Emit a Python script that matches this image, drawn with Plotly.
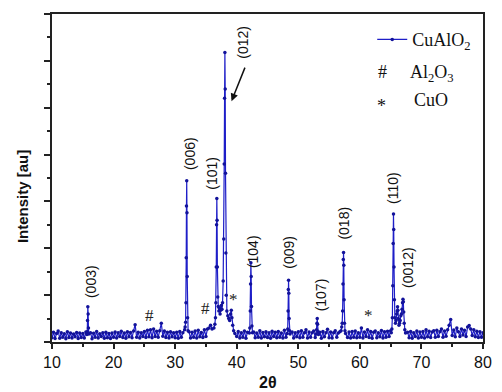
import numpy as np
import plotly.graph_objects as go

# ---- XRD scan of CuAlO2 powder ----
# background counts on a 0.25 deg grid, one list per 10 deg
BG_START, BG_STEP = 10.0, 0.25
bg_10s = [45, 105, 38, 92, 118, 40, 98, 52, 88, 35, 110, 48, 95, 42, 86, 55, 102, 38, 96, 47,
          90, 44, 108, 100, 80, 100, 36, 94, 50, 112, 42, 87, 58, 99, 40, 104, 46, 91, 37, 97]
bg_20s = [52, 108, 44, 100, 60, 115, 48, 96, 40, 110, 55, 102, 46, 118, 185, 50, 105, 42, 98, 60,
          112, 48, 125, 56, 130, 45, 140, 58, 115, 50, 120, 200, 62, 118, 48, 104, 42, 110, 55, 98]
bg_30s = [46, 104, 40, 112, 52, 98, 110, 150, 120, 110, 42, 105, 50, 118, 44, 125, 56, 102, 48, 130,
          60, 140, 150, 180, 140, 160, 200, 300, 380, 330, 390, 500, 2000, 900, 280, 240, 300, 220, 120, 90]
bg_40s = [58, 112, 44, 100, 50, 118, 40, 105, 95, 600, 100, 108, 46, 96, 52, 120, 42, 102, 55, 110,
          48, 98, 40, 115, 60, 104, 45, 112, 50, 96, 44, 125, 52, 300, 250, 80, 108, 42, 100, 55]
bg_50s = [110, 46, 120, 50, 98, 130, 44, 106, 52, 100, 118, 48, 180, 120, 104, 40, 112, 55, 98, 135,
          46, 108, 42, 100, 120, 50, 96, 110, 140, 700, 200, 88, 48, 106, 42, 112, 50, 118, 46, 100]
bg_60s = [52, 150, 44, 108, 60, 130, 48, 112, 40, 104, 118, 46, 100, 55, 122, 44, 110, 50, 115, 60,
          120, 300, 1300, 250, 220, 340, 220, 280, 430, 120, 90, 104, 46, 112, 40, 100, 58, 118, 44, 106]
bg_70s = [50, 112, 44, 130, 56, 115, 48, 108, 120, 52, 125, 58, 110, 140, 50, 118, 62, 130, 180, 240,
          70, 128, 56, 150, 110, 60, 140, 75, 125, 58, 160, 175, 140, 70, 130, 55, 115, 48, 110, 52, 100]

# diffraction peak profiles (2theta in deg, counts)
peak_2theta = [15.66, 15.72, 15.77, 15.82, 15.87, 15.92, 15.98,
               31.55, 31.62, 31.70, 31.76, 31.80, 31.84, 31.88, 31.92, 31.96, 32.02, 32.10,
               36.30, 36.45, 36.55, 36.62, 36.68, 36.73, 36.77, 36.81, 36.86, 36.92, 37.00,
               37.10, 37.20, 37.30, 37.40, 37.50, 37.60, 37.70, 37.80, 37.90, 37.97, 38.03,
               38.08, 38.13, 38.18, 38.24, 38.30, 38.40, 38.55, 38.70, 38.85, 39.00, 39.12,
               39.22, 39.35, 39.50, 39.70,
               42.05, 42.13, 42.20, 42.25, 42.30, 42.35, 42.40, 42.47, 42.55,
               48.20, 48.28, 48.34, 48.38, 48.42, 48.46, 48.51, 48.58, 48.66,
               52.90, 52.98, 53.04, 53.08, 53.13, 53.20, 53.28,
               56.95, 57.05, 57.13, 57.20, 57.26, 57.31, 57.35, 57.39, 57.44, 57.50, 57.58, 57.68,
               65.10, 65.20, 65.28, 65.35, 65.41, 65.46, 65.50, 65.55, 65.61, 65.68, 65.78,
               65.88, 65.98, 66.06, 66.12, 66.18, 66.25, 66.35, 66.45, 66.55, 66.65, 66.75,
               66.85, 66.93, 67.00, 67.06, 67.12, 67.20, 67.30, 67.42]
peak_counts = [80, 110, 230, 375, 300, 150, 85,
               130, 160, 210, 420, 900, 1450, 1720, 1380, 700, 260, 120,
               150, 190, 260, 420, 800, 1250, 1530, 1300, 800, 480, 380,
               330, 360, 300, 340, 390, 350, 420, 650, 1100, 1900, 2600,
               3090, 2700, 1800, 950, 500, 330, 280, 250, 230, 300, 340,
               260, 180, 120, 90,
               95, 150, 330, 620, 845, 700, 380, 170, 100,
               90, 140, 330, 560, 660, 520, 250, 120, 85,
               85, 130, 200, 250, 190, 110, 80,
               120, 160, 200, 330, 620, 880, 955, 820, 450, 200, 120, 90,
               100, 140, 260, 600, 1050, 1365, 1200, 800, 450, 260, 200,
               230, 300, 330, 375, 340, 250, 180, 200, 230, 280, 300,
               350, 420, 455, 430, 320, 200, 130, 95]

# Miller-index labels and where they sit
hkl_text = ["(003)", "(006)", "(101)", "(012)", "(104)", "(009)", "(107)", "(018)", "(110)", "(0012)"]
hkl_2theta = [16.33, 32.32, 35.98, 41.02, 42.66, 48.43, 53.64, 57.46, 65.41, 67.79]
hkl_counts = [650, 2010, 1806, 3204, 960, 960, 505, 1266, 1646, 789]

# impurity phase markers
phase_text = ["#", "#", "*", "*"]
phase_2theta = [25.91, 34.91, 39.43, 61.43]
phase_counts = [278, 358, 454, 286]

# ---- assemble the scan ----
bg_counts = np.array(bg_10s + bg_20s + bg_30s + bg_40s + bg_50s + bg_60s + bg_70s, dtype=float)
bg_2theta = BG_START + BG_STEP * np.arange(len(bg_counts))
pk_x = np.array(peak_2theta)
keep = np.array([np.min(np.abs(pk_x - t)) >= 0.099 for t in bg_2theta])
tt = np.concatenate([bg_2theta[keep], pk_x])
cc = np.concatenate([bg_counts[keep], np.array(peak_counts, dtype=float)])
order = np.argsort(tt)
tt, cc = tt[order], cc[order]

fig = go.Figure()
fig.add_trace(go.Scatter(
    x=tt, y=cc, mode="lines+markers", name="CuAlO<sub>2</sub>",
    line=dict(color="#1e1ec8", width=1.2),
    marker=dict(color="#12129a", size=3.5),
))

sans = "Liberation Sans, Arial, sans-serif"
serif = "Liberation Serif, Times New Roman, serif"

for t, x, y in zip(hkl_text, hkl_2theta, hkl_counts):
    fig.add_annotation(x=x, y=y, text=t, textangle=-90, showarrow=False,
                       font=dict(family=sans, size=14, color="#111"))

for t, x, y in zip(phase_text, phase_2theta, phase_counts):
    fig.add_annotation(x=x, y=y, text=t, showarrow=False,
                       font=dict(family=serif, size=17, color="#222"))

# arrow pointing at the (012) reflection
fig.add_annotation(x=39.16, y=2570, ax=14, ay=-35, text="", showarrow=True,
                   arrowhead=2, arrowsize=1, arrowwidth=1.5, arrowcolor="#111")

# legend entries for the secondary phases
key_font = dict(family=serif, size=18, color="#111")
fig.add_annotation(xref="paper", yref="paper", x=0.766, y=0.824, xanchor="center",
                   yanchor="middle", text="#", showarrow=False, font=key_font)
fig.add_annotation(xref="paper", yref="paper", x=0.825, y=0.818, xanchor="left",
                   yanchor="middle", text="Al<sub>2</sub>O<sub>3</sub>", showarrow=False,
                   font=key_font)
fig.add_annotation(xref="paper", yref="paper", x=0.764, y=0.719, xanchor="center",
                   yanchor="middle", text="*", showarrow=False, font=key_font)
fig.add_annotation(xref="paper", yref="paper", x=0.836, y=0.738, xanchor="left",
                   yanchor="middle", text="CuO", showarrow=False, font=key_font)

# axis titles
fig.add_annotation(xref="paper", yref="paper", x=-0.068, y=0.444, xanchor="center",
                   yanchor="middle", text="<b>Intensity [au]</b>", textangle=-90,
                   showarrow=False, font=dict(family=sans, size=15, color="#111"))
fig.add_annotation(xref="paper", yref="paper", x=0.5, y=-0.122, xanchor="center",
                   yanchor="middle", text="<b>2θ</b>",
                   showarrow=False, font=dict(family=sans, size=16, color="#111"))

fig.update_layout(
    width=502, height=392,
    margin=dict(l=52, r=10, t=14, b=50),
    paper_bgcolor="white", plot_bgcolor="white",
    showlegend=True,
    legend=dict(x=0.743, y=0.978, xanchor="left", yanchor="top",
                bgcolor="rgba(0,0,0,0)", font=dict(family=serif, size=18, color="#111")),
)
fig.update_xaxes(
    range=[10, 80], tick0=10, dtick=10, ticks="outside", ticklen=5, tickwidth=1.5,
    tickcolor="#222", minor=dict(ticks="outside", ticklen=3, dtick=5, tickcolor="#222"),
    showline=True, linewidth=1.5, linecolor="#222", mirror=True,
    showgrid=False, zeroline=False, tickfont=dict(family=sans, size=16, color="#111"),
)
fig.update_yaxes(
    range=[0, 3500], tick0=0, dtick=500, ticks="outside", ticklen=6, tickwidth=1.5,
    tickcolor="#222", minor=dict(ticks="outside", ticklen=3, dtick=250, tickcolor="#222"),
    showticklabels=False, showline=True, linewidth=1.5, linecolor="#222", mirror=True,
    showgrid=False, zeroline=False,
)

fig.write_html("out.html")
